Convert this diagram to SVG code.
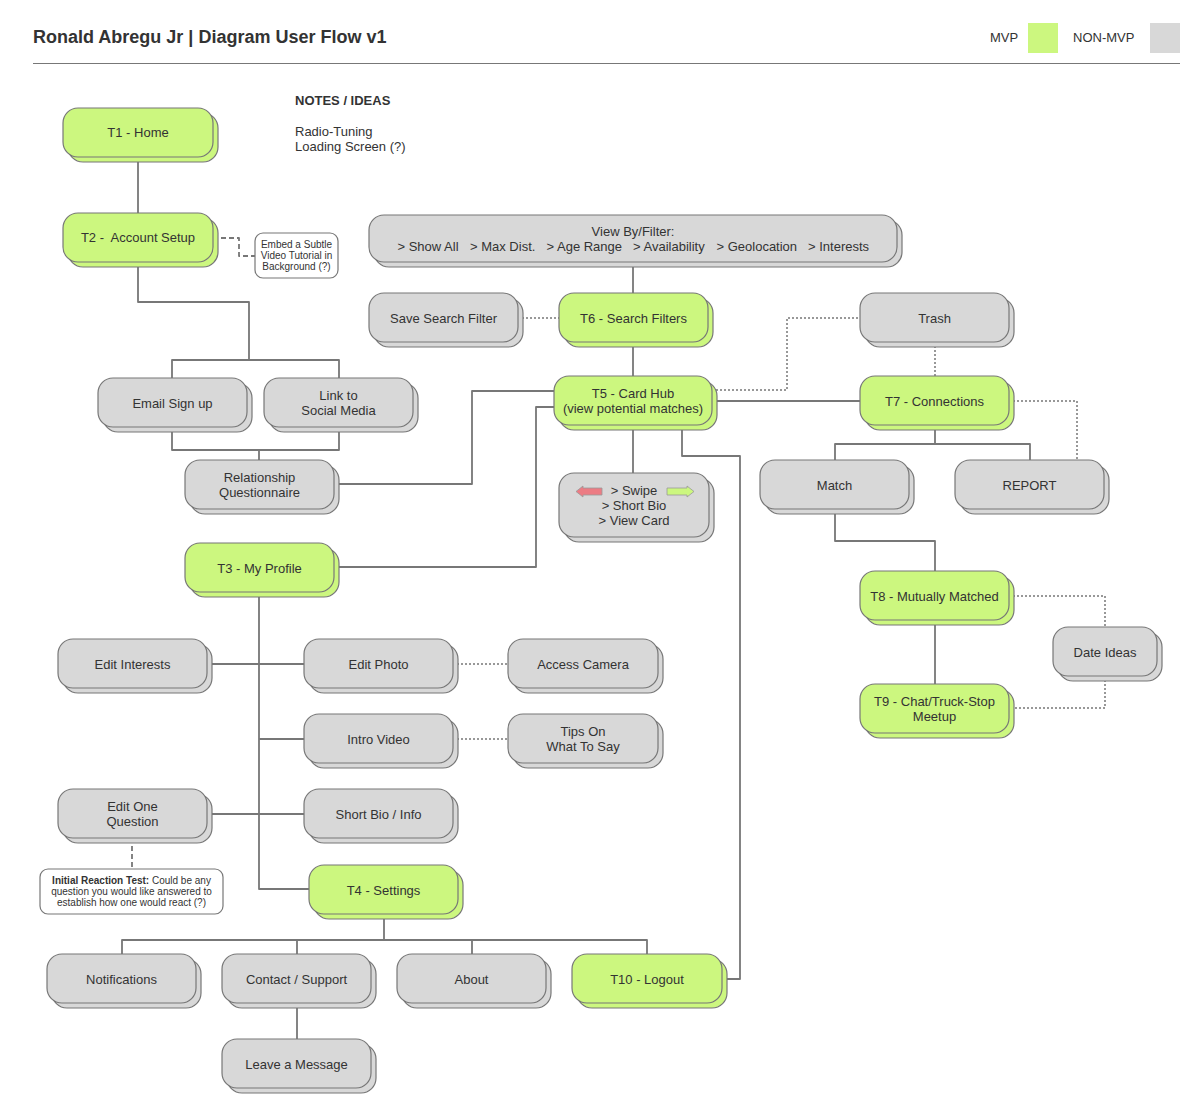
<svg xmlns="http://www.w3.org/2000/svg" width="1180" height="1094" viewBox="0 0 1180 1094">
<style>
text{font-family:"Liberation Sans",Arial,sans-serif;fill:#333;white-space:pre}
.t{font-size:13px;text-anchor:middle}
.s{font-size:10px;text-anchor:middle}
.g{fill:#d8d8d8;stroke:#777;stroke-width:1.2}
.m{fill:#ccf77f;stroke:#777;stroke-width:1.2}
.n{fill:#fff;stroke:#777;stroke-width:1.2}
.c path{fill:none;stroke:#777;stroke-width:1.8;stroke-linejoin:round}
.c .dot{stroke-dasharray:2 2;stroke-width:1.5}
.c .dash{stroke-dasharray:5 3;stroke-width:1.8}
</style>
<rect width="1180" height="1094" fill="#fff"/>
<g id="header">
<text x="33" y="43" style="font-size:18px;font-weight:bold">Ronald Abregu Jr | Diagram User Flow v1</text>
<path d="M33,63.5H1180" stroke="#777" stroke-width="1.2"/>
<text x="990" y="42" style="font-size:13px">MVP</text>
<rect x="1028" y="23" width="30" height="30" fill="#ccf77f"/>
<text x="1073" y="42" style="font-size:13px">NON-MVP</text>
<rect x="1150" y="23" width="30" height="30" fill="#d8d8d8"/>
</g>
<g id="notes">
<text x="295" y="105" style="font-size:13px;font-weight:bold">NOTES / IDEAS</text>
<text x="295" y="136" style="font-size:13px">Radio-Tuning</text>
<text x="295" y="151" style="font-size:13px">Loading Screen (?)</text>
</g>
<g id="connectors" class="c">
<path d="M138,157V213"/>
<path d="M138,262V302H249V360M172,378V360H339V378"/>
<path d="M172,427V450H339V427M259,450V460"/>
<path d="M338,484H472V391H554"/>
<path d="M338,567H536V407H554"/>
<path d="M633,262V293"/>
<path d="M633,342V376"/>
<path d="M633,425V473"/>
<path d="M682,425V456H740V979H722"/>
<path d="M712,401H860"/>
<path d="M935,425V444M835,460V444H1030V460"/>
<path d="M835,509V541H935V571"/>
<path d="M935,620V684"/>
<path d="M259,592V889H309"/>
<path d="M207,664H304"/>
<path d="M259,739H304"/>
<path d="M207,814H304"/>
<path d="M384,914V940M122,954V940H647V954M297,940V954M472,940V954"/>
<path d="M297,1003V1039"/>
<path class="dot" d="M518,318H559"/>
<path class="dot" d="M712,390H787V318H860"/>
<path class="dot" d="M935,342V376"/>
<path class="dot" d="M1009,401H1077V460"/>
<path class="dot" d="M1009,596H1105V627"/>
<path class="dot" d="M1105,676V708H1009"/>
<path class="dot" d="M453,664H508"/>
<path class="dot" d="M453,739H508"/>
<path class="dash" d="M213,238H239V256H255"/>
<path class="dash" d="M132,838V869"/>
</g>
<g id="t1"><rect class="m" x="68" y="113" width="150" height="49" rx="15"/><rect class="m" x="63" y="108" width="150" height="49" rx="15"/><text class="t" x="138" y="137">T1 - Home</text></g>
<g id="t2"><rect class="m" x="68" y="218" width="150" height="49" rx="15"/><rect class="m" x="63" y="213" width="150" height="49" rx="15"/><text class="t" x="138" y="242">T2 -  Account Setup</text></g>
<g id="note-video"><rect class="n" x="255" y="233" width="83" height="45" rx="8"/><text class="s" x="296.5" y="248">Embed a Subtle</text><text class="s" x="296.5" y="259">Video Tutorial in</text><text class="s" x="296.5" y="270">Background (?)</text></g>
<g id="viewby"><rect class="g" x="374" y="220" width="528" height="47" rx="15"/><rect class="g" x="369" y="215" width="528" height="47" rx="15"/><text class="t" x="633" y="236">View By/Filter:</text>
<text x="397.5" y="251" style="font-size:13px">&gt; Show All</text><text x="470" y="251" style="font-size:13px">&gt; Max Dist.</text><text x="546.5" y="251" style="font-size:13px">&gt; Age Range</text><text x="633" y="251" style="font-size:13px">&gt; Availability</text><text x="716.5" y="251" style="font-size:13px">&gt; Geolocation</text><text x="808" y="251" style="font-size:13px">&gt; Interests</text></g>
<g id="save-search"><rect class="g" x="374" y="298" width="149" height="49" rx="15"/><rect class="g" x="369" y="293" width="149" height="49" rx="15"/><text class="t" x="443.5" y="322.5">Save Search Filter</text></g>
<g id="t6"><rect class="m" x="564" y="298" width="149" height="49" rx="15"/><rect class="m" x="559" y="293" width="149" height="49" rx="15"/><text class="t" x="633.5" y="322.5">T6 - Search Filters</text></g>
<g id="t5"><rect class="m" x="559" y="381" width="158" height="49" rx="15"/><rect class="m" x="554" y="376" width="158" height="49" rx="15"/><text class="t" x="633" y="398">T5 - Card Hub</text><text class="t" x="633" y="413">(view potential matches)</text></g>
<g id="swipe"><rect class="g" x="564" y="478" width="150" height="64" rx="15"/><rect class="g" x="559" y="473" width="150" height="64" rx="15"/>
<path d="M576,491.5L583,486V488H602V495H583V497Z" fill="#ec7c84" stroke="#999" stroke-width="0.8"/>
<path d="M694,491.5L687,486V488H667V495H687V497Z" fill="#ccf77f" stroke="#999" stroke-width="0.8"/>
<text class="t" x="634" y="495">&gt; Swipe</text><text class="t" x="634" y="510">&gt; Short Bio</text><text class="t" x="634" y="525">&gt; View Card</text></g>
<g id="trash"><rect class="g" x="865" y="298" width="149" height="49" rx="15"/><rect class="g" x="860" y="293" width="149" height="49" rx="15"/><text class="t" x="934.5" y="322.5">Trash</text></g>
<g id="t7"><rect class="m" x="865" y="381" width="149" height="49" rx="15"/><rect class="m" x="860" y="376" width="149" height="49" rx="15"/><text class="t" x="934.5" y="405.5">T7 - Connections</text></g>
<g id="match"><rect class="g" x="765" y="465" width="149" height="49" rx="15"/><rect class="g" x="760" y="460" width="149" height="49" rx="15"/><text class="t" x="834.5" y="489.5">Match</text></g>
<g id="report"><rect class="g" x="960" y="465" width="149" height="49" rx="15"/><rect class="g" x="955" y="460" width="149" height="49" rx="15"/><text class="t" x="1029.5" y="489.5">REPORT</text></g>
<g id="t8"><rect class="m" x="865" y="576" width="149" height="49" rx="15"/><rect class="m" x="860" y="571" width="149" height="49" rx="15"/><text class="t" x="934.5" y="600.5">T8 - Mutually Matched</text></g>
<g id="date-ideas"><rect class="g" x="1058" y="632" width="104" height="49" rx="15"/><rect class="g" x="1053" y="627" width="104" height="49" rx="15"/><text class="t" x="1105" y="656.5">Date Ideas</text></g>
<g id="t9"><rect class="m" x="865" y="689" width="149" height="49" rx="15"/><rect class="m" x="860" y="684" width="149" height="49" rx="15"/><text class="t" x="934.5" y="706">T9 - Chat/Truck-Stop</text><text class="t" x="934.5" y="721">Meetup</text></g>
<g id="email"><rect class="g" x="103" y="383" width="149" height="49" rx="15"/><rect class="g" x="98" y="378" width="149" height="49" rx="15"/><text class="t" x="172.5" y="407.5">Email Sign up</text></g>
<g id="social"><rect class="g" x="269" y="383" width="149" height="49" rx="15"/><rect class="g" x="264" y="378" width="149" height="49" rx="15"/><text class="t" x="338.5" y="400">Link to</text><text class="t" x="338.5" y="415">Social Media</text></g>
<g id="questionnaire"><rect class="g" x="190" y="465" width="149" height="49" rx="15"/><rect class="g" x="185" y="460" width="149" height="49" rx="15"/><text class="t" x="259.5" y="482">Relationship</text><text class="t" x="259.5" y="497">Questionnaire</text></g>
<g id="t3"><rect class="m" x="190" y="548" width="149" height="49" rx="15"/><rect class="m" x="185" y="543" width="149" height="49" rx="15"/><text class="t" x="259.5" y="572.5">T3 - My Profile</text></g>
<g id="edit-interests"><rect class="g" x="63" y="644" width="149" height="49" rx="15"/><rect class="g" x="58" y="639" width="149" height="49" rx="15"/><text class="t" x="132.5" y="668.5">Edit Interests</text></g>
<g id="edit-photo"><rect class="g" x="309" y="644" width="149" height="49" rx="15"/><rect class="g" x="304" y="639" width="149" height="49" rx="15"/><text class="t" x="378.5" y="668.5">Edit Photo</text></g>
<g id="access-camera"><rect class="g" x="513" y="644" width="150" height="49" rx="15"/><rect class="g" x="508" y="639" width="150" height="49" rx="15"/><text class="t" x="583" y="668.5">Access Camera</text></g>
<g id="intro-video"><rect class="g" x="309" y="719" width="149" height="49" rx="15"/><rect class="g" x="304" y="714" width="149" height="49" rx="15"/><text class="t" x="378.5" y="743.5">Intro Video</text></g>
<g id="tips"><rect class="g" x="513" y="719" width="150" height="49" rx="15"/><rect class="g" x="508" y="714" width="150" height="49" rx="15"/><text class="t" x="583" y="736">Tips On</text><text class="t" x="583" y="751">What To Say</text></g>
<g id="edit-question"><rect class="g" x="63" y="794" width="149" height="49" rx="15"/><rect class="g" x="58" y="789" width="149" height="49" rx="15"/><text class="t" x="132.5" y="811">Edit One</text><text class="t" x="132.5" y="826">Question</text></g>
<g id="short-bio"><rect class="g" x="309" y="794" width="149" height="49" rx="15"/><rect class="g" x="304" y="789" width="149" height="49" rx="15"/><text class="t" x="378.5" y="818.5">Short Bio / Info</text></g>
<g id="note-reaction"><rect class="n" x="40" y="869" width="183" height="45" rx="8"/><text class="s" x="131.5" y="884"><tspan font-weight="bold">Initial Reaction Test:</tspan> Could be any</text><text class="s" x="131.5" y="895">question you would like answered to</text><text class="s" x="131.5" y="906">establish how one would react (?)</text></g>
<g id="t4"><rect class="m" x="314" y="870" width="149" height="49" rx="15"/><rect class="m" x="309" y="865" width="149" height="49" rx="15"/><text class="t" x="383.5" y="894.5">T4 - Settings</text></g>
<g id="notifications"><rect class="g" x="52" y="959" width="149" height="49" rx="15"/><rect class="g" x="47" y="954" width="149" height="49" rx="15"/><text class="t" x="121.5" y="983.5">Notifications</text></g>
<g id="contact"><rect class="g" x="227" y="959" width="149" height="49" rx="15"/><rect class="g" x="222" y="954" width="149" height="49" rx="15"/><text class="t" x="296.5" y="983.5">Contact / Support</text></g>
<g id="about"><rect class="g" x="402" y="959" width="149" height="49" rx="15"/><rect class="g" x="397" y="954" width="149" height="49" rx="15"/><text class="t" x="471.5" y="983.5">About</text></g>
<g id="t10"><rect class="m" x="577" y="959" width="150" height="49" rx="15"/><rect class="m" x="572" y="954" width="150" height="49" rx="15"/><text class="t" x="647" y="983.5">T10 - Logout</text></g>
<g id="leave-message"><rect class="g" x="227" y="1044" width="149" height="49" rx="15"/><rect class="g" x="222" y="1039" width="149" height="49" rx="15"/><text class="t" x="296.5" y="1068.5">Leave a Message</text></g>
</svg>
